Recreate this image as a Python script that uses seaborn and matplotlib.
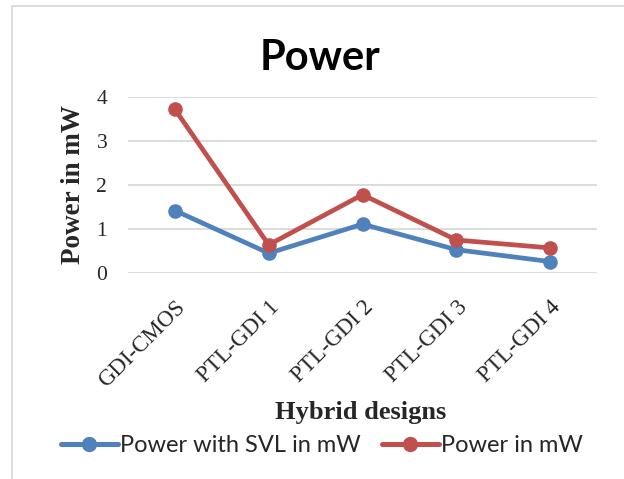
import matplotlib
matplotlib.use("Agg")
import matplotlib.pyplot as plt
import seaborn as sns
import pandas as pd
from matplotlib.patches import Rectangle

categories = ["GDI-CMOS", "PTL-GDI 1", "PTL-GDI 2", "PTL-GDI 3", "PTL-GDI 4"]
power_svl = [1.42, 0.45, 1.11, 0.53, 0.26]
power = [3.72, 0.64, 1.78, 0.75, 0.57]
series_names = ["Power with SVL in mW", "Power in mW"]
colors = ["#4F81BD", "#C0504D"]

df = pd.DataFrame({
    "design": categories * 2,
    "pos": list(range(len(categories))) * 2,
    "value": power_svl + power,
    "series": [series_names[0]] * len(categories) + [series_names[1]] * len(categories),
})

sns.set_theme(style="white")
plt.rcParams["font.family"] = ["Liberation Serif", "DejaVu Serif"]

fig = plt.figure(figsize=(6.24, 4.79), dpi=100)
ax = fig.add_axes([128 / 624, 1 - 273 / 479, (597 - 128) / 624, (273 - 97) / 479])

sns.lineplot(data=df, x="pos", y="value", hue="series", palette=colors,
             marker="o", markersize=10.5, linewidth=3.4, markeredgewidth=0,
             ax=ax, legend=False)

ax.set_xlim(-0.5, len(categories) - 0.5)
ax.set_ylim(0, 4)
ax.set_yticks([0, 1, 2, 3, 4])
ax.set_xticks(range(len(categories)))
ax.set_xticklabels(categories, rotation=45, ha="right", va="top",
                   rotation_mode="anchor", fontsize=16.5, family="Liberation Serif")
ax.set_yticklabels(["0", "1", "2", "3", "4"], fontsize=15.5, family="Liberation Serif")
ax.tick_params(axis="y", length=0, pad=15)
ax.tick_params(axis="x", length=0, pad=17)
ax.grid(axis="y", color="#D9D9D9", linewidth=1.3)
ax.set_axisbelow(True)
for s in ax.spines.values():
    s.set_visible(False)
ax.set_xlabel("")
ax.set_ylabel("")

fig.text(74 / 624, 1 - 184 / 479, "Power in mW", rotation=90, ha="center", va="center",
         fontsize=19.5, fontweight="bold", family="Liberation Serif")
fig.text(361 / 624, 1 - 413 / 479, "Hybrid designs", ha="center", va="center",
         fontsize=19, fontweight="bold", family="Liberation Serif")
fig.text(320 / 624, 1 - 58 / 479, "Power", ha="center", va="center",
         fontsize=30, fontweight="bold", family="Lato", color="black")

handles = [plt.Line2D([0], [0], color=c, lw=3.6, marker="o", markersize=11,
                      markeredgewidth=0) for c in colors]
fig.legend(handles, series_names, loc="center", bbox_to_anchor=(322 / 624, 1 - 446 / 479),
           ncol=2, frameon=False, handlelength=2.4, handletextpad=0.1, columnspacing=0.9,
           prop={"family": "Lato", "size": 17})

fig.patches.append(Rectangle((12 / 624, -0.1), 1.2, 1 - 6 / 479 + 0.1,
                             transform=fig.transFigure, fill=False,
                             edgecolor="#D9D9D9", linewidth=1.3))

fig.savefig("out.png", dpi=100)
